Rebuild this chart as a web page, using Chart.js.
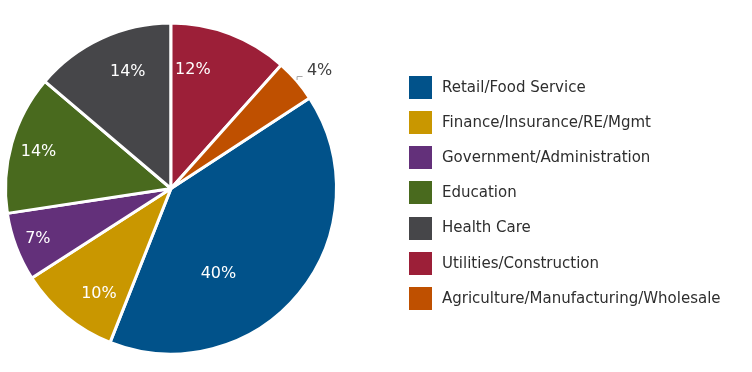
<!DOCTYPE html>
<html>
<head>
<meta charset="utf-8">
<script src="https://cdn.jsdelivr.net/npm/chart.js@4/dist/chart.umd.min.js"></script>
<style>
  html, body { margin: 0; padding: 0; background: #ffffff; }
  #c { display: block; }
</style>
</head>
<body>
<canvas id="c" width="752" height="372"></canvas>
<script>
// ---- data ----
const categories = [
  "Retail/Food Service",
  "Finance/Insurance/RE/Mgmt",
  "Government/Administration",
  "Education",
  "Health Care",
  "Utilities/Construction",
  "Agriculture/Manufacturing/Wholesale"
];
const shares = [40.2, 9.9, 6.7, 13.6, 13.8, 11.6, 4.2];
const colors = ["#01528a", "#c99700", "#63307a", "#496a1e", "#464649", "#9c1f38", "#bf5000"];

// label placement inside each slice: [fraction of slice angle, fraction of radius]
const labelAnchor = [[0.65, 0.59], [0.36, 0.77], [0.50, 0.86], [0.49, 0.83], [0.59, 0.75], [0.25, 0.73], [0.63, 1.135]];
const labelInside = [true, true, true, true, true, true, false];

const total = shares.reduce((a, b) => a + b, 0);
// the last two slices sit before 12 o'clock; Retail starts right after them
const startDeg = (shares[5] + shares[6]) / total * 360;

const FONT = '"DejaVu Sans", Verdana, sans-serif';

const labelPlugin = {
  id: 'sliceLabels',
  afterDatasetsDraw(chart) {
    const ctx = chart.ctx;
    const meta = chart.getDatasetMeta(0);
    ctx.save();
    ctx.font = '16px ' + FONT;
    ctx.textAlign = 'center';
    ctx.textBaseline = 'middle';
    meta.data.forEach((arc, i) => {
      const p = arc.getProps(['x', 'y', 'startAngle', 'endAngle', 'outerRadius'], true);
      const a = p.startAngle + labelAnchor[i][0] * (p.endAngle - p.startAngle);
      const r = p.outerRadius * labelAnchor[i][1];
      const x = p.x + r * Math.cos(a);
      const y = p.y + r * Math.sin(a);
      const txt = Math.round(shares[i] / total * 100 + 1e-9) + '%';
      if (labelInside[i]) {
        ctx.fillStyle = '#ffffff';
        ctx.fillText(txt, x, y);
      } else {
        ctx.fillStyle = '#404040';
        ctx.fillText(txt, x + 2, y);
        ctx.strokeStyle = '#a6a6a6';
        ctx.lineWidth = 1;
        ctx.beginPath();
        ctx.moveTo(x - 20.5, y + 9);
        ctx.lineTo(x - 20.5, y + 5.5);
        ctx.lineTo(x - 15, y + 5.5);
        ctx.stroke();
      }
    });
    ctx.restore();
  }
};

const legendPlugin = {
  id: 'sideLegend',
  afterDraw(chart) {
    const ctx = chart.ctx;
    ctx.save();
    ctx.font = '15px ' + FONT;
    ctx.textBaseline = 'middle';
    ctx.textAlign = 'left';
    const x0 = 409, y0 = 87.5, step = 35.15, box = 23;
    categories.forEach((name, i) => {
      const yc = y0 + i * step;
      ctx.fillStyle = colors[i];
      ctx.fillRect(x0, Math.round(yc - box / 2), box, box);
      ctx.fillStyle = '#2e2e2e';
      ctx.fillText(name, 442, yc + 0.5);
    });
    ctx.restore();
  }
};

new Chart(document.getElementById('c'), {
  type: 'pie',
  data: {
    labels: categories,
    datasets: [{
      data: shares,
      backgroundColor: colors,
      borderColor: '#ffffff',
      borderWidth: 3
    }]
  },
  options: {
    responsive: false,
    animation: false,
    rotation: startDeg,
    layout: { padding: { left: 4, right: 414, top: 21, bottom: 16 } },
    plugins: {
      legend: { display: false },
      tooltip: { enabled: false }
    }
  },
  plugins: [labelPlugin, legendPlugin]
});
</script>
</body>
</html>
